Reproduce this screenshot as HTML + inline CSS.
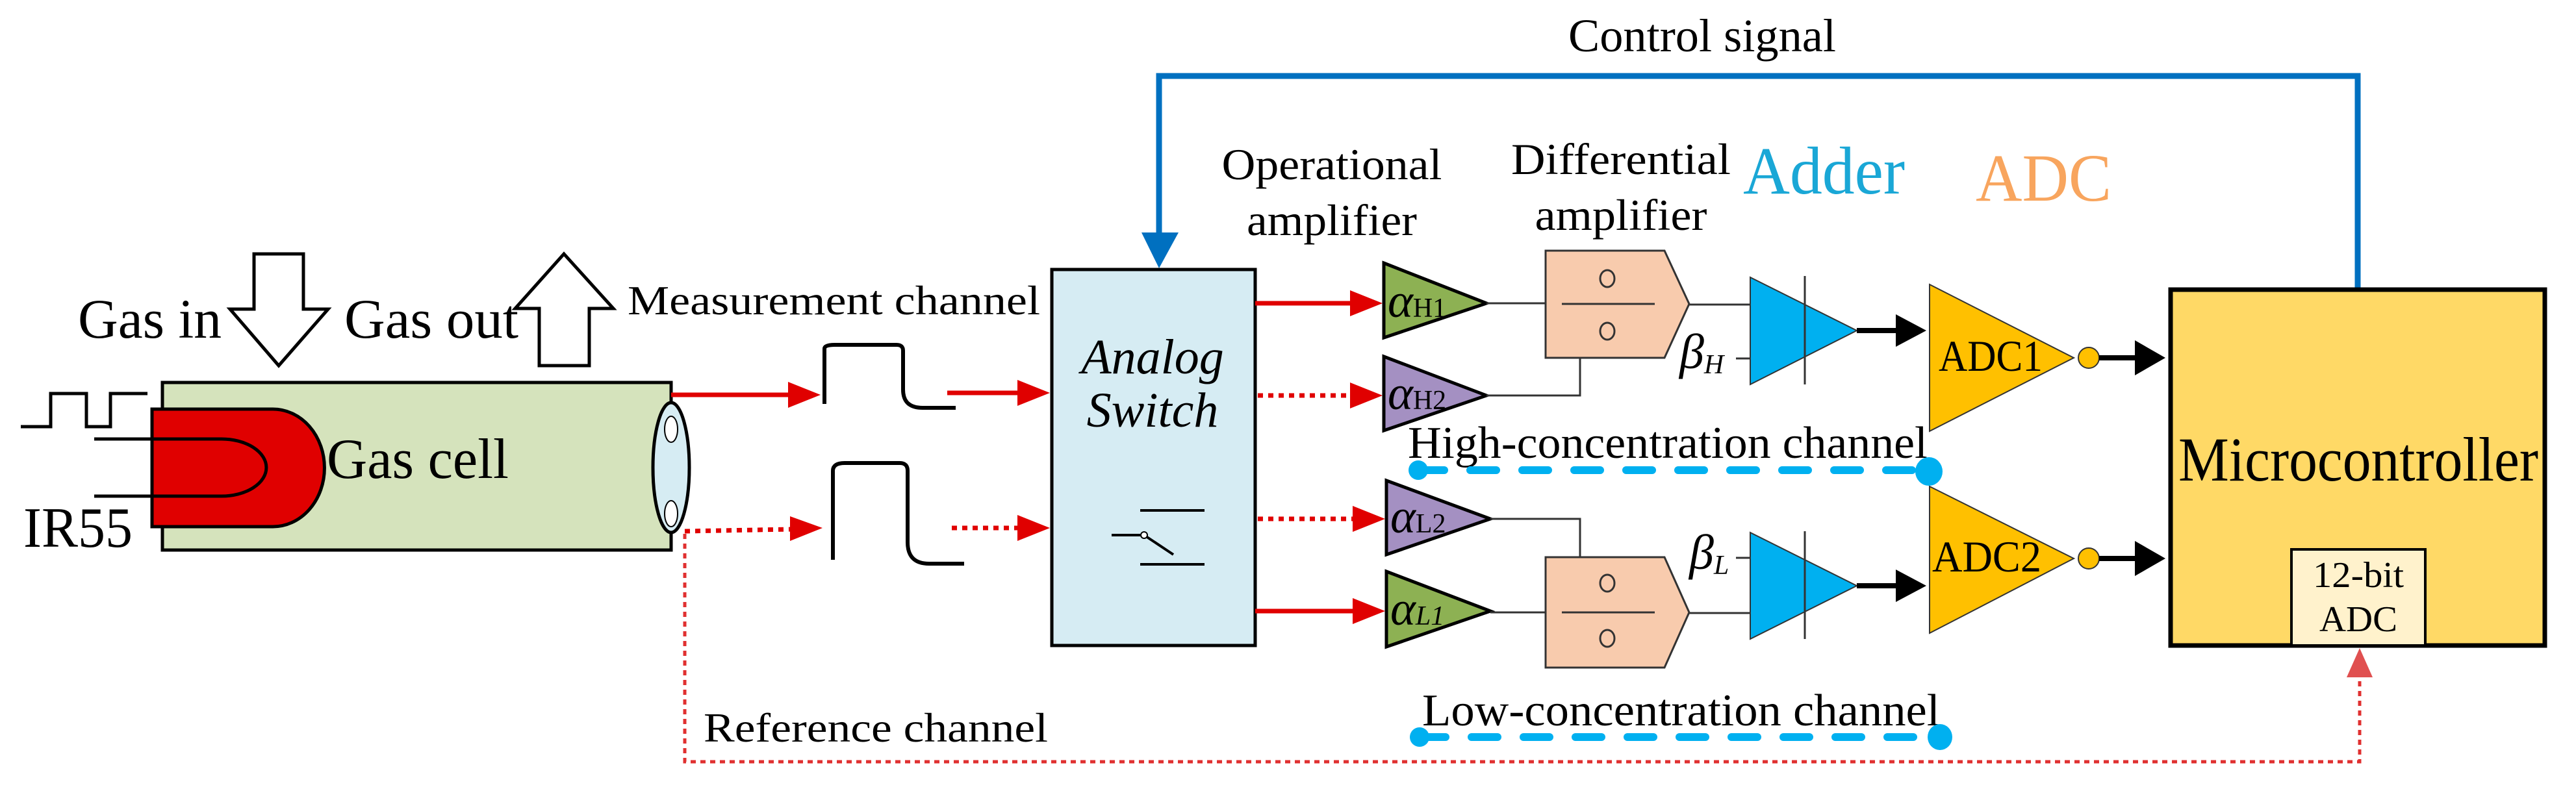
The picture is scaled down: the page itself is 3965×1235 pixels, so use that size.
<!DOCTYPE html>
<html><head><meta charset="utf-8"><style>html,body{margin:0;padding:0;background:#fff}svg{display:block}</style></head><body>
<svg width="3965" height="1235" viewBox="0 0 3965 1235" xmlns="http://www.w3.org/2000/svg" font-family="'Liberation Serif', 'Times New Roman', serif">
<!-- Control signal -->
<text x="2414" y="79" font-size="72" textLength="412" lengthAdjust="spacingAndGlyphs">Control signal</text>
<polyline points="3629,449 3629,117 1784,117 1784,370" fill="none" stroke="#0070c0" stroke-width="9"/>
<polygon points="1757,358 1814,358 1784,413" fill="#0070c0"/>

<!-- Gas in/out arrows -->
<polygon points="391,391 467,391 467,476 505,476 429,563 354,476 391,476" fill="#fff" stroke="#000" stroke-width="5"/>
<polygon points="830,563 907,563 907,475 944,475 868,391 793,475 830,475" fill="#fff" stroke="#000" stroke-width="5"/>
<text x="120" y="520" font-size="86" textLength="221" lengthAdjust="spacingAndGlyphs">Gas in</text>
<text x="530" y="520" font-size="86" textLength="268" lengthAdjust="spacingAndGlyphs">Gas out</text>
<text x="966" y="484" font-size="64" textLength="635" lengthAdjust="spacingAndGlyphs">Measurement channel</text>

<!-- Gas cell -->
<rect x="250" y="589" width="783" height="258" fill="#d5e3bc" stroke="#000" stroke-width="5"/>
<path d="M234,630 H420 A79 90 0 0 1 420,811 H234 Z" fill="#e00000" stroke="#000" stroke-width="5"/>
<path d="M145,676 H341 A69 44 0 0 1 341,764 H145" fill="none" stroke="#000" stroke-width="5"/>
<polyline points="32,657 78,657 78,606 133,606 133,657 170,657 170,606 227,606" fill="none" stroke="#000" stroke-width="5"/>
<text x="503" y="736" font-size="88" textLength="280" lengthAdjust="spacingAndGlyphs">Gas cell</text>
<text x="36" y="842" font-size="88" textLength="168" lengthAdjust="spacingAndGlyphs">IR55</text>
<ellipse cx="1033" cy="720" rx="28" ry="100" fill="#d6ecf3" stroke="#000" stroke-width="5"/>
<ellipse cx="1033" cy="661" rx="10" ry="20" fill="#fff" stroke="#000" stroke-width="2"/>
<ellipse cx="1033" cy="791" rx="10" ry="20" fill="#fff" stroke="#000" stroke-width="2"/>

<!-- measurement path -->
<line x1="1033" y1="608" x2="1215" y2="608" stroke="#e00000" stroke-width="7"/>
<polygon points="1213,588 1263,608 1213,628" fill="#e00000"/>
<path d="M1269,622 V537 Q1269,531 1285,531 H1380 Q1390,531 1390,540 V600 Q1390,628 1420,628 H1471" fill="none" stroke="#000" stroke-width="6"/>
<line x1="1458" y1="605" x2="1570" y2="605" stroke="#e00000" stroke-width="7"/>
<polygon points="1566,585 1616,605 1566,625" fill="#e00000"/>
<!-- reference path -->
<line x1="1054" y1="818" x2="1218" y2="815" stroke="#e00000" stroke-width="7" stroke-dasharray="8,8"/>
<polygon points="1216,795 1266,813 1216,833" fill="#e00000"/>
<path d="M1282,862 V725 Q1282,713 1300,713 H1385 Q1397,713 1397,725 V835 Q1397,868 1430,868 H1484" fill="none" stroke="#000" stroke-width="6"/>
<line x1="1465" y1="813" x2="1570" y2="813" stroke="#e00000" stroke-width="7" stroke-dasharray="8,8"/>
<polygon points="1566,793 1616,813 1566,833" fill="#e00000"/>
<polyline points="1054,822 1054,1173 3632,1173 3632,1040" fill="none" stroke="#e03030" stroke-width="5" stroke-dasharray="8,7"/>
<polygon points="3612,1043 3652,1043 3632,998" fill="#e05050"/>
<text x="1083" y="1142" font-size="64" textLength="530" lengthAdjust="spacingAndGlyphs">Reference channel</text>

<!-- Analog switch -->
<rect x="1619" y="415" width="313" height="579" fill="#d6ecf3" stroke="#000" stroke-width="5"/>
<text x="1774" y="575" font-size="76" font-style="italic" text-anchor="middle">Analog</text>
<text x="1774" y="657" font-size="76" font-style="italic" text-anchor="middle">Switch</text>
<line x1="1755" y1="786" x2="1854" y2="786" stroke="#000" stroke-width="4"/>
<line x1="1755" y1="869" x2="1854" y2="869" stroke="#000" stroke-width="4"/>
<line x1="1711" y1="824" x2="1761" y2="824" stroke="#000" stroke-width="4"/>
<line x1="1761" y1="824" x2="1806" y2="854" stroke="#000" stroke-width="4"/>
<circle cx="1761" cy="824" r="5" fill="#fff" stroke="#000" stroke-width="2"/>

<!-- headers -->
<text x="2050" y="276" font-size="68" text-anchor="middle" textLength="339" lengthAdjust="spacingAndGlyphs">Operational</text>
<text x="2050" y="362" font-size="68" text-anchor="middle" textLength="262" lengthAdjust="spacingAndGlyphs">amplifier</text>
<text x="2495" y="268" font-size="68" text-anchor="middle" textLength="338" lengthAdjust="spacingAndGlyphs">Differential</text>
<text x="2495" y="354" font-size="68" text-anchor="middle" textLength="265" lengthAdjust="spacingAndGlyphs">amplifier</text>
<text x="2683" y="298" font-size="104" fill="#1aa7d6" textLength="249" lengthAdjust="spacingAndGlyphs">Adder</text>
<text x="3041" y="309" font-size="104" fill="#f8a55e" textLength="209" lengthAdjust="spacingAndGlyphs">ADC</text>

<!-- red arrows to op amps -->
<line x1="1932" y1="467" x2="2085" y2="467" stroke="#e00000" stroke-width="7"/>
<polygon points="2078,447 2128,467 2078,487" fill="#e00000"/>
<line x1="1936" y1="609" x2="2085" y2="609" stroke="#e00000" stroke-width="7" stroke-dasharray="8,8"/>
<polygon points="2078,589 2128,609 2078,629" fill="#e00000"/>
<line x1="1936" y1="799" x2="2085" y2="799" stroke="#e00000" stroke-width="7" stroke-dasharray="8,8"/>
<polygon points="2082,779 2132,799 2082,819" fill="#e00000"/>
<line x1="1932" y1="941" x2="2085" y2="941" stroke="#e00000" stroke-width="7"/>
<polygon points="2082,921 2132,941 2082,961" fill="#e00000"/>

<!-- op amps -->
<polygon points="2130,405 2288,467 2130,520" fill="#8db153" stroke="#000" stroke-width="5"/>
<polygon points="2130,549 2288,609 2130,663" fill="#a490c2" stroke="#000" stroke-width="5"/>
<polygon points="2134,740 2294,799 2134,854" fill="#a490c2" stroke="#000" stroke-width="5"/>
<polygon points="2134,880 2294,941 2134,996" fill="#8db153" stroke="#000" stroke-width="5"/>
<text x="2136" y="488" font-size="74"><tspan font-style="italic">α</tspan><tspan font-size="42">H1</tspan></text>
<text x="2136" y="630" font-size="74"><tspan font-style="italic">α</tspan><tspan font-size="42">H2</tspan></text>
<text x="2140" y="820" font-size="74"><tspan font-style="italic">α</tspan><tspan font-size="42">L2</tspan></text>
<text x="2140" y="962" font-size="74"><tspan font-style="italic">α</tspan><tspan font-size="42" font-style="italic">L1</tspan></text>

<!-- connecting lines -->
<g stroke="#333" stroke-width="3" fill="none">
<line x1="2288" y1="467" x2="2379" y2="467"/>
<polyline points="2288,609 2432,609 2432,551"/>
<polyline points="2294,799 2432,799 2432,858"/>
<line x1="2294" y1="943" x2="2379" y2="943"/>
<line x1="2600" y1="469" x2="2694" y2="469"/>
<line x1="2600" y1="944" x2="2694" y2="944"/>
<line x1="2672" y1="552" x2="2694" y2="552"/>
<line x1="2672" y1="859" x2="2694" y2="859"/>
</g>

<!-- differential amps -->
<polygon points="2379,386 2562,386 2600,468 2562,551 2379,551" fill="#f8cbad" stroke="#333" stroke-width="3"/>
<line x1="2404" y1="468" x2="2547" y2="468" stroke="#333" stroke-width="3"/>
<ellipse cx="2474" cy="429" rx="11" ry="13" fill="none" stroke="#333" stroke-width="3"/>
<ellipse cx="2474" cy="510" rx="11" ry="13" fill="none" stroke="#333" stroke-width="3"/>
<polygon points="2379,858 2562,858 2600,943 2562,1028 2379,1028" fill="#f8cbad" stroke="#333" stroke-width="3"/>
<line x1="2404" y1="943" x2="2547" y2="943" stroke="#333" stroke-width="3"/>
<ellipse cx="2474" cy="898" rx="11" ry="13" fill="none" stroke="#333" stroke-width="3"/>
<ellipse cx="2474" cy="983" rx="11" ry="13" fill="none" stroke="#333" stroke-width="3"/>

<!-- beta labels -->
<text x="2585" y="567" font-size="76" font-style="italic">β<tspan font-size="42" dy="8">H</tspan></text>
<text x="2600" y="876" font-size="76" font-style="italic">β<tspan font-size="42" dy="8">L</tspan></text>

<!-- adders -->
<polygon points="2694,427 2858,509 2694,592" fill="#00b0f0" stroke="#333" stroke-width="2"/>
<line x1="2778" y1="425" x2="2778" y2="592" stroke="#333" stroke-width="3"/>
<polygon points="2694,820 2858,902 2694,984" fill="#00b0f0" stroke="#333" stroke-width="2"/>
<line x1="2778" y1="818" x2="2778" y2="984" stroke="#333" stroke-width="3"/>
<line x1="2858" y1="509" x2="2930" y2="509" stroke="#000" stroke-width="8"/>
<polygon points="2918,484 2965,509 2918,534" fill="#000"/>
<line x1="2858" y1="902" x2="2930" y2="902" stroke="#000" stroke-width="8"/>
<polygon points="2918,877 2965,902 2918,927" fill="#000"/>

<!-- ADCs -->
<polygon points="2970,438 3192,551 2970,664" fill="#ffc000" stroke="#333" stroke-width="2"/>
<polygon points="2970,749 3192,860 2970,975" fill="#ffc000" stroke="#333" stroke-width="2"/>
<text x="2984" y="571" font-size="68" textLength="160" lengthAdjust="spacingAndGlyphs">ADC1</text>
<text x="2974" y="880" font-size="68" textLength="168" lengthAdjust="spacingAndGlyphs">ADC2</text>
<circle cx="3215" cy="551" r="16" fill="#ffc000" stroke="#333" stroke-width="2"/>
<circle cx="3215" cy="860" r="16" fill="#ffc000" stroke="#333" stroke-width="2"/>
<line x1="3231" y1="551" x2="3300" y2="551" stroke="#000" stroke-width="8"/>
<polygon points="3286,524 3333,551 3286,578" fill="#000"/>
<line x1="3231" y1="860" x2="3300" y2="860" stroke="#000" stroke-width="8"/>
<polygon points="3286,833 3333,860 3286,887" fill="#000"/>

<!-- channel labels -->
<text x="2167" y="705" font-size="70" textLength="800" lengthAdjust="spacingAndGlyphs">High-concentration channel</text>
<line x1="2183" y1="724" x2="2969" y2="724" stroke="#00b0f0" stroke-width="12" stroke-dasharray="40,40" stroke-linecap="round"/>
<circle cx="2183" cy="724" r="15" fill="#00b0f0"/>
<ellipse cx="2969" cy="726" rx="21" ry="22" fill="#00b0f0"/>
<text x="2189" y="1117" font-size="70" textLength="797" lengthAdjust="spacingAndGlyphs">Low-concentration channel</text>
<line x1="2185" y1="1135" x2="2986" y2="1135" stroke="#00b0f0" stroke-width="12" stroke-dasharray="40,40" stroke-linecap="round"/>
<circle cx="2185" cy="1135" r="15" fill="#00b0f0"/>
<ellipse cx="2986" cy="1135" rx="19" ry="20" fill="#00b0f0"/>

<!-- Microcontroller -->
<rect x="3341" y="446" width="576" height="548" fill="#ffd966" stroke="#000" stroke-width="7"/>
<text x="3630" y="740" font-size="96" text-anchor="middle" textLength="554" lengthAdjust="spacingAndGlyphs">Microcontroller</text>
<rect x="3527" y="846" width="206" height="148" fill="#fff2cc" stroke="#000" stroke-width="4"/>
<text x="3630" y="904" font-size="56" text-anchor="middle" textLength="140" lengthAdjust="spacingAndGlyphs">12-bit</text>
<text x="3630" y="972" font-size="56" text-anchor="middle" textLength="120" lengthAdjust="spacingAndGlyphs">ADC</text>
</svg>
</body></html>
